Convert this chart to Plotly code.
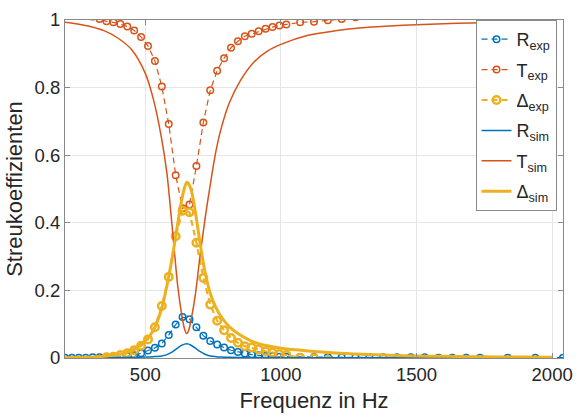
import plotly.graph_objects as go

# ---------------- data ----------------
freq_exp = [204, 229.5, 255, 280.5, 306, 331.5, 357, 382.5, 408, 433.5, 459, 484.5,
            510, 535.5, 561, 586.5, 612, 637.5, 663, 688.5, 714, 739.5, 765, 790.5,
            816, 841.5, 867, 892.5, 918, 943.5, 969, 994.5, 1020,
            1071, 1122, 1173, 1224, 1275, 1326, 1377, 1428, 1479, 1530, 1581, 1632,
            1683, 1734, 1836, 1938, 2040]

R_exp = [0.001, 0.001, 0.001, 0.001, 0.002, 0.002, 0.002, 0.003, 0.003, 0.005, 0.008, 0.014,
         0.022, 0.030, 0.043, 0.068, 0.099, 0.121, 0.115, 0.091, 0.066, 0.050, 0.040, 0.031,
         0.023, 0.018, 0.013, 0.010, 0.008, 0.006, 0.005, 0.004, 0.004,
         0.003, 0.003, 0.003, 0.002, 0.002, 0.002, 0.002, 0.002, 0.002, 0.002, 0.001, 0.001,
         0.001, 0.001, 0.001, 0.001, 0.001]

T_exp = [1.045, 1.040, 1.030, 1.020, 1.010, 1.003, 0.996, 0.993, 0.988, 0.981, 0.969, 0.950,
         0.923, 0.879, 0.803, 0.692, 0.541, 0.443, 0.454, 0.568, 0.697, 0.792, 0.850, 0.887,
         0.918, 0.937, 0.952, 0.959, 0.967, 0.974, 0.979, 0.984, 0.987,
         0.993, 0.995, 0.999, 1.003, 1.008, 1.012, 1.015, 1.018, 1.020, 1.022, 1.024, 1.026,
         1.028, 1.030, 1.033, 1.036, 1.040]

D_exp = [-0.046, -0.041, -0.031, -0.021, -0.012, -0.005, 0.002, 0.004, 0.009, 0.014, 0.023, 0.036,
         0.055, 0.091, 0.154, 0.240, 0.360, 0.436, 0.431, 0.341, 0.237, 0.158, 0.110, 0.082,
         0.059, 0.045, 0.035, 0.031, 0.025, 0.020, 0.016, 0.012, 0.009,
         0.001, -0.001, -0.006, -0.010, -0.015, -0.018, -0.021, -0.024, -0.026, -0.028, -0.030, -0.032,
         -0.034, -0.036, -0.039, -0.042, -0.046]

freq_sim = [200, 250, 300, 350, 400, 450, 500, 530, 560, 580, 600, 620, 635, 645, 653,
            660, 670, 685, 700, 720, 740, 760, 780, 810, 850, 900, 950, 1000, 1100,
            1200, 1300, 1400, 1500, 1600, 1700, 1800, 1900, 2000]

R_sim = [0.0005, 0.0006, 0.0008, 0.001, 0.0015, 0.002, 0.003, 0.004, 0.006, 0.010, 0.018, 0.030,
         0.038, 0.041, 0.042, 0.041, 0.037, 0.029, 0.020, 0.011, 0.006, 0.004, 0.003, 0.002,
         0.0017, 0.0015, 0.0013, 0.0012, 0.001, 0.0009, 0.0008, 0.0007, 0.0006, 0.0005, 0.0005,
         0.0004, 0.0004, 0.0003]

T_sim = [0.994, 0.988, 0.980, 0.968, 0.946, 0.912, 0.842, 0.765, 0.650, 0.545, 0.380, 0.210,
         0.125, 0.085, 0.072, 0.082, 0.118, 0.190, 0.290, 0.410, 0.515, 0.610, 0.680, 0.755,
         0.820, 0.875, 0.908, 0.928, 0.955, 0.968, 0.977, 0.982, 0.986, 0.989, 0.991, 0.993,
         0.994, 0.995]

D_sim = [0.001, 0.002, 0.003, 0.005, 0.010, 0.022, 0.051, 0.082, 0.145, 0.215, 0.300, 0.400,
         0.470, 0.505, 0.520, 0.515, 0.495, 0.430, 0.350, 0.255, 0.190, 0.150, 0.122, 0.092,
         0.068, 0.047, 0.036, 0.029, 0.021, 0.015, 0.011, 0.008, 0.006, 0.005, 0.004, 0.003,
         0.003, 0.002]

x_ticks = [500, 1000, 1500, 2000]
y_ticks = [0, 0.2, 0.4, 0.6, 0.8, 1]
y_ticklabels = ["0", "0.2", "0.4", "0.6", "0.8", "1"]

# ---------------- styles ----------------
BLUE = "#0072BD"
ORANGE = "#D95319"
YELLOW = "#EDB120"
FONT = "Liberation Sans, Arial, Helvetica, sans-serif"

fig = go.Figure()

def exp_trace(y, color, name, group, lw, msize, mlw):
    return go.Scatter(
        x=freq_exp, y=y, name=name, legendgroup=group, mode="lines+markers",
        line=dict(color=color, width=lw, dash="6px,4px"),
        marker=dict(symbol="circle-open", size=msize, color=color, line=dict(width=mlw, color=color)),
        cliponaxis=True,
    )

fig.add_trace(exp_trace(R_exp, BLUE, "R<sub>exp</sub>", "g1", 1.2, 6.5, 1.5))
fig.add_trace(exp_trace(T_exp, ORANGE, "T<sub>exp</sub>", "g2", 1.2, 6.5, 1.5))
fig.add_trace(exp_trace(D_exp, YELLOW, "Δ<sub>exp</sub>", "g3", 2.2, 7.5, 2.5))

def sim_trace(y, color, name, group, lw):
    return go.Scatter(
        x=freq_sim, y=y, name=name, legendgroup=group, mode="lines",
        line=dict(color=color, width=lw, shape="spline", smoothing=0.8),
    )

fig.add_trace(sim_trace(R_sim, BLUE, "R<sub>sim</sub>", "g4", 1.5))
fig.add_trace(sim_trace(T_sim, ORANGE, "T<sub>sim</sub>", "g5", 1.5))
fig.add_trace(sim_trace(D_sim, YELLOW, "Δ<sub>sim</sub>", "g6", 3))

axis_common = dict(
    showgrid=True, gridcolor="#e6e6e6", gridwidth=1,
    showline=True, linecolor="#8a8a8a", linewidth=1, mirror="ticks",
    ticks="inside", ticklen=5, tickcolor="#8a8a8a",
    zeroline=False,
    tickfont=dict(family=FONT, size=18.5, color="#262626"),
)

fig.update_layout(
    width=582, height=420,
    margin=dict(l=65, r=9, t=13, b=62),
    paper_bgcolor="white", plot_bgcolor="white",
    font=dict(family=FONT, color="#262626"),
    showlegend=True,
    legend=dict(
        x=0.987, y=1.0, xanchor="right", yanchor="top",
        bgcolor="white", bordercolor="#8a8a8a", borderwidth=1,
        font=dict(family=FONT, size=18, color="#262626"),
        itemwidth=30, tracegroupgap=4, traceorder="grouped",
    ),
    xaxis=dict(
        range=[204, 2040], tickvals=x_ticks,
        ticklabeloverflow="allow",
        title=dict(text="Frequenz in Hz", font=dict(family=FONT, size=22, color="#262626"), standoff=8),
        **axis_common,
    ),
    yaxis=dict(
        range=[0, 1], tickvals=y_ticks, ticktext=y_ticklabels,
        title=dict(text="Streukoeffizienten", font=dict(family=FONT, size=22, color="#262626"), standoff=5),
        **axis_common,
    ),
)

fig.write_html("out.html")
